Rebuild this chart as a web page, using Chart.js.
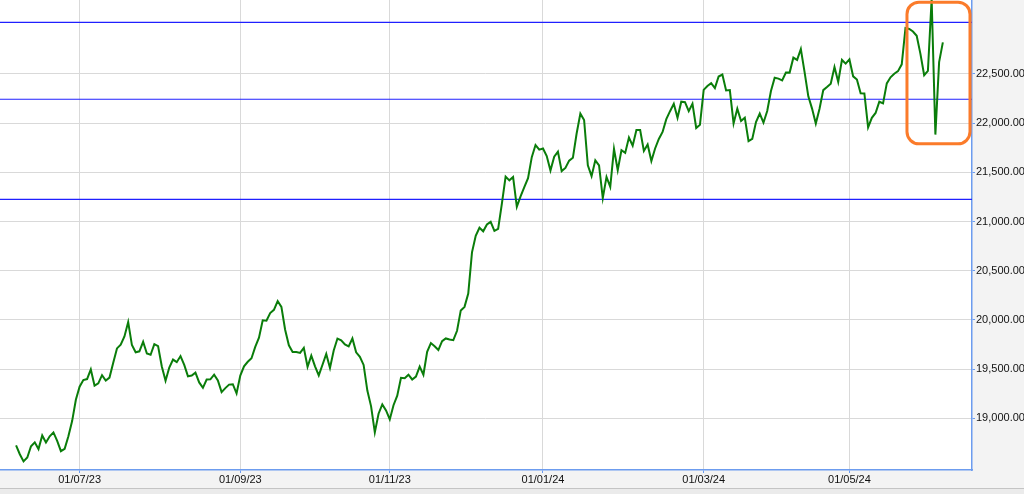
<!DOCTYPE html>
<html>
<head>
<meta charset="utf-8">
<script src="https://cdn.jsdelivr.net/npm/chart.js@4"></script>
<style>
  html, body { margin: 0; padding: 0; background: #f3f3f3; overflow: hidden; }
  #wrap { width: 1024px; height: 494px; }
  canvas { display: block; }
  #bar { height: 5px; border-top: 1px solid #c4c4c4; background: #ebebeb; }
</style>
</head>
<body>
<div id="wrap">
  <canvas id="chart" width="1024" height="488"></canvas>
  <div id="bar"></div>
</div>
<script>
// trading days per month (day numbers)
const months = ["2023-06", "2023-07", "2023-08", "2023-09", "2023-10", "2023-11", "2023-12",
                "2024-01", "2024-02", "2024-03", "2024-04", "2024-05", "2024-06"];
const monthDays = [
  [7, 8, 9, 12, 13, 14, 15, 16, 19, 20, 21, 22, 23, 26, 27, 28, 30],
  [3, 4, 5, 6, 7, 10, 11, 12, 13, 14, 17, 18, 19, 20, 21, 24, 25, 26, 27, 28, 31],
  [1, 2, 3, 4, 7, 8, 9, 10, 11, 14, 16, 17, 18, 21, 22, 23, 24, 25, 28, 29, 30, 31],
  [1, 4, 5, 6, 7, 8, 11, 12, 13, 14, 15, 18, 20, 21, 22, 25, 26, 27, 28, 29],
  [3, 4, 5, 6, 9, 10, 11, 12, 13, 16, 17, 18, 19, 20, 23, 25, 26, 27, 30, 31],
  [1, 2, 3, 6, 7, 8, 9, 10, 12, 13, 15, 16, 17, 20, 21, 22, 23, 24, 28, 29, 30],
  [1, 4, 5, 6, 7, 8, 11, 12, 13, 14, 15, 18, 19, 20, 21, 22, 26, 27, 28, 29],
  [1, 2, 3, 4, 5, 8, 9, 10, 11, 12, 15, 16, 17, 18, 19, 20, 23, 24, 25, 29, 30, 31],
  [1, 2, 5, 6, 7, 8, 9, 12, 13, 14, 15, 16, 19, 20, 21, 22, 23, 26, 27, 28, 29],
  [1, 2, 4, 5, 6, 7, 11, 12, 13, 14, 15, 18, 19, 20, 21, 22, 26, 27, 28],
  [1, 2, 3, 4, 5, 8, 9, 10, 12, 15, 16, 18, 19, 22, 23, 24, 25, 26, 29, 30],
  [2, 3, 6, 7, 8, 9, 10, 13, 14, 15, 16, 17, 18, 21, 22, 23, 24, 27, 28, 29, 30, 31],
  [3, 4, 5, 6]
];

// closing values, same order as the days above
const closes = [
  // Jun 23
  18726, 18635, 18563, 18602, 18716, 18756, 18688, 18826, 18755, 18817, 18857, 18771, 18666, 18691, 18817, 18972, 19189,
  // Jul 23
  19322, 19389, 19399, 19497, 19332, 19356, 19439, 19384, 19414, 19565, 19711, 19749, 19833, 19979, 19745, 19672, 19681, 19778, 19659, 19646, 19754,
  // Aug 23
  19734, 19527, 19382, 19517, 19597, 19571, 19633, 19543, 19428, 19435, 19465, 19365, 19310, 19394, 19396, 19444, 19386, 19266, 19307, 19343, 19347, 19254,
  // Sep 23
  19435, 19529, 19575, 19611, 19727, 19820, 19996, 19993, 20070, 20103, 20192, 20133, 19901, 19742, 19674, 19675, 19665, 19716, 19524, 19638,
  // Oct 23
  19529, 19436, 19545, 19654, 19512, 19690, 19811, 19794, 19751, 19732, 19812, 19671, 19625, 19543, 19282, 19122, 18857, 19047, 19141, 19080,
  // Nov 23
  18989, 19133, 19231, 19412, 19407, 19444, 19395, 19425, 19525, 19443, 19676, 19765, 19732, 19694, 19784, 19812, 19802, 19795, 19890, 20097, 20133,
  // Dec 23
  20268, 20687, 20855, 20937, 20901, 20970, 20997, 20906, 20926, 21183, 21457, 21419, 21453, 21150, 21255, 21349, 21441, 21655, 21778, 21731,
  // Jan 24
  21742, 21666, 21518, 21659, 21711, 21513, 21545, 21619, 21648, 21895, 22097, 22032, 21572, 21462, 21622, 21572, 21239, 21454, 21353, 21738, 21522, 21726,
  // Feb 24
  21698, 21854, 21772, 21930, 21931, 21718, 21783, 21616, 21743, 21840, 21911, 22041, 22122, 22197, 22055, 22218, 22213, 22123, 22198, 21951, 21983,
  // Mar 24
  22339, 22378, 22406, 22356, 22474, 22494, 22333, 22336, 21998, 22147, 22023, 22056, 21817, 21840, 22012, 22097, 22005, 22124, 22327,
  // Apr 24
  22462, 22453, 22435, 22515, 22514, 22666, 22643, 22754, 22519, 22273, 22148, 21996, 22147, 22336, 22368, 22402, 22570, 22420, 22643, 22605,
  // May 24
  22648, 22476, 22443, 22303, 22302, 21958, 22055, 22104, 22218, 22201, 22404, 22466, 22502, 22529, 22598, 22968, 22957, 22932, 22888, 22705, 22488, 22531,
  // Jun 24
  23263, 21884, 22620, 22821
];

// horizontal levels drawn in blue
const levels = [23025, 22243, 21226];

// x axis labels, placed at the first trading day of those months
const tickMonths = ["2023-07", "2023-09", "2023-11", "2024-01", "2024-03", "2024-05"];
const tickLabels = ["01/07/23", "01/09/23", "01/11/23", "01/01/24", "01/03/24", "01/05/24"];

const yTicks = [19000, 19500, 20000, 20500, 21000, 21500, 22000, 22500];

// highlighted box: from this day to the end of the axis, between these values
const boxStart = "2024-05-23";
const boxLow = 21790;
const boxHigh = 23230;

const dates = [];
months.forEach((m, i) => {
  monthDays[i].forEach(d => dates.push(m + "-" + String(d).padStart(2, "0")));
});

const tickIndex = tickMonths.map(m => dates.findIndex(d => d.startsWith(m)));
const points = closes.map((v, i) => ({ x: i, y: v }));

const axisBlue = "#6c9cef";
const gridGray = "#d9d9d9";

const chartBg = {
  id: "chartBg",
  beforeDraw(chart) {
    const a = chart.chartArea;
    const ctx = chart.ctx;
    ctx.save();
    ctx.fillStyle = "#ffffff";
    ctx.fillRect(a.left, a.top, a.right - a.left, a.bottom - a.top);
    ctx.restore();
  }
};

const levelLines = {
  id: "levelLines",
  beforeDatasetsDraw(chart) {
    const a = chart.chartArea;
    const y = chart.scales.y;
    const ctx = chart.ctx;
    ctx.save();
    ctx.strokeStyle = "#2020ff";
    ctx.lineWidth = 1.2;
    levels.forEach(v => {
      const py = y.getPixelForValue(v);
      ctx.beginPath();
      ctx.moveTo(a.left, py);
      ctx.lineTo(a.right, py);
      ctx.stroke();
    });
    ctx.restore();
  }
};

const highlightBox = {
  id: "highlightBox",
  afterDatasetsDraw(chart) {
    const x = chart.scales.x;
    const y = chart.scales.y;
    const ctx = chart.ctx;
    const left = x.getPixelForValue(dates.indexOf(boxStart) + 0.4);
    const right = chart.chartArea.right - 2;
    const top = y.getPixelForValue(boxHigh);
    const bottom = y.getPixelForValue(boxLow);
    ctx.save();
    ctx.strokeStyle = "#fb7b2a";
    ctx.lineWidth = 3;
    ctx.beginPath();
    ctx.roundRect(left, top, right - left, bottom - top, 12);
    ctx.stroke();
    ctx.restore();
  }
};

new Chart(document.getElementById("chart"), {
  type: "line",
  data: {
    datasets: [
      {
        data: points,
        borderColor: "#0a7d0a",
        borderWidth: 2,
        pointRadius: 0,
        tension: 0
      }
    ]
  },
  options: {
    responsive: false,
    animation: false,
    devicePixelRatio: 1,
    layout: { padding: 0 },
    plugins: {
      legend: { display: false },
      tooltip: { enabled: false }
    },
    scales: {
      x: {
        type: "linear",
        min: -4.3,
        max: 255.8,
        afterBuildTicks: scale => {
          scale.ticks = tickIndex.map(i => ({ value: i }));
        },
        afterFit: scale => {
          scale.height = 18;
          scale.paddingLeft = 0;
          scale.paddingRight = 0;
        },
        ticks: {
          autoSkip: false,
          maxRotation: 0,
          padding: 0,
          color: "#111",
          font: { family: "Liberation Sans", size: 11 },
          callback: value => tickLabels[tickIndex.indexOf(value)]
        },
        grid: {
          color: gridGray,
          tickColor: axisBlue,
          tickLength: 3
        },
        border: { color: axisBlue, width: 1.5 }
      },
      y: {
        position: "right",
        min: 18475,
        max: 23252,
        afterBuildTicks: scale => {
          scale.ticks = yTicks.map(v => ({ value: v }));
        },
        afterFit: scale => {
          scale.width = 52;
          scale.paddingTop = 0;
          scale.paddingBottom = 0;
        },
        ticks: {
          padding: 1,
          color: "#111",
          font: { family: "Liberation Sans", size: 11 },
          callback: v => v.toLocaleString("en-US", { minimumFractionDigits: 2, maximumFractionDigits: 2 })
        },
        grid: {
          color: gridGray,
          tickColor: axisBlue,
          tickLength: 3
        },
        border: { color: axisBlue, width: 1.5 }
      }
    }
  },
  plugins: [chartBg, levelLines, highlightBox]
});
</script>
</body>
</html>
